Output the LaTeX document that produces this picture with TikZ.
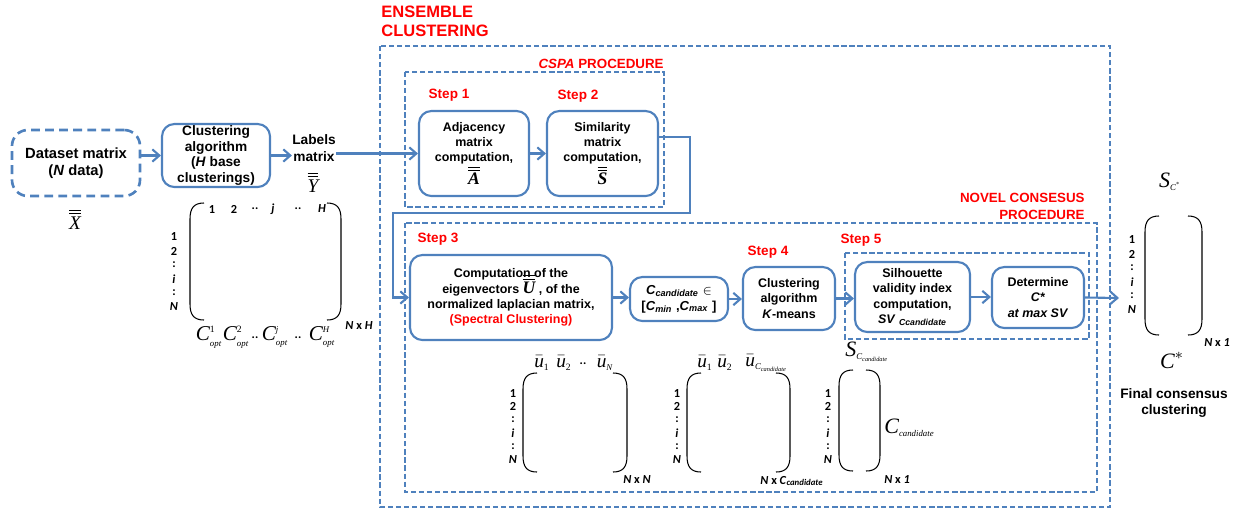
\documentclass[tikz,border=0pt]{standalone}
\usepackage{amsmath}
\usepackage{fontspec}
\setmainfont{Liberation Sans}
\newfontfamily\tms{Liberation Serif}
\newfontfamily\cbr{Carlito}
\usepackage{tikz}
\usetikzlibrary{arrows.meta}

\definecolor{boxblue}{HTML}{4F81BD}
\definecolor{titlered}{HTML}{FF0000}

\newcommand{\tv}[1]{\text{\tms\itshape #1}}
\newcommand{\tsub}[1]{\mbox{\fontsize{5}{6}\selectfont\tms\itshape #1}}
\newcommand{\tsubup}[1]{\mbox{\fontsize{5.5}{6}\selectfont\tms #1}}
\newcommand{\tsubsub}[1]{\mbox{\fontsize{3.6}{4}\selectfont\tms\itshape #1}}
\newcommand{\mtxparens}[4]{%
  \draw [paren] (#1+14,#2) .. controls (#1+4,#2) and (#1,#2+5) .. (#1,#2+16) -- (#1,#4-16) .. controls (#1,#4-5) and (#1+4,#4) .. (#1+14,#4);
  \draw [paren] (#3-14,#2) .. controls (#3-4,#2) and (#3,#2+5) .. (#3,#2+16) -- (#3,#4-16) .. controls (#3,#4-5) and (#3-4,#4) .. (#3-14,#4);}

\begin{document}
\begin{tikzpicture}[x=0.02cm, y=-0.02cm,
    box/.style={draw=boxblue, line width=1.2pt, rounded corners=7pt, align=center, inner sep=1pt,
        font=\bfseries\fontsize{7.1}{8.7}\selectfont},
    databox/.style={box, line width=1.5pt, dash pattern=on 5pt off 3pt, rounded corners=9pt,
        font=\bfseries\fontsize{8.4}{10}\selectfont},
    group/.style={draw=boxblue, line width=0.7pt, dash pattern=on 3pt off 1.6pt},
    flow/.style={draw=boxblue, line width=1.2pt, -{Straight Barb[length=4pt,width=7pt]}},
    redtitle/.style={text=titlered, inner sep=0pt, font=\bfseries\fontsize{7.6}{9.7}\selectfont},
    steplab/.style={text=titlered, inner sep=0pt, font=\bfseries\fontsize{7.7}{9}\selectfont},
    plain/.style={align=center, inner sep=0pt, font=\bfseries\fontsize{7.8}{9.4}\selectfont},
    idx/.style={inner sep=0pt, font=\cbr\bfseries\fontsize{7}{7.5}\selectfont},
    sym/.style={inner sep=0pt, font=\fontsize{11}{13}\selectfont},
    bigsym/.style={sym, font=\fontsize{12.5}{14}\selectfont},
    paren/.style={line width=0.6pt}]

\useasboundingbox (0,0) rectangle (1244,511);

\draw [group] (380,46) rectangle (1110,507);
\draw [group] (405,72) rectangle (664,207);
\draw [group] (405,223) rectangle (1097,492);
\draw [group] (845,253) rectangle (1089,339);

\node [redtitle, align=left, anchor=west, font=\bfseries\fontsize{9.4}{10.8}\selectfont] (enstitle) at (381,21) {ENSEMBLE\\CLUSTERING};
\node [redtitle, anchor=base east] (cspatitle) at (664,68) {\textit{CSPA} PROCEDURE};
\node [redtitle, align=right, anchor=east] (noveltitle) at (1085,206) {NOVEL CONSESUS\\PROCEDURE};

\node [steplab] (step1) at (449,95) {Step 1};
\node [steplab] (step2) at (578,96) {Step 2};
\node [steplab] (step3) at (438,239) {Step 3};
\node [steplab] (step4) at (768,252) {Step 4};
\node [steplab] (step5) at (861,240) {Step 5};

\node [databox, minimum width=2.56cm, minimum height=1.32cm] (data) at (76,163) {Dataset matrix\\(\textit{N} data)};
\node [box, minimum width=2.16cm, minimum height=1.26cm, font=\bfseries\fontsize{7.8}{8.8}\selectfont] (clust) at (216,155.5) {Clustering\\algorithm\\(\textit{H} base\\clusterings)};
\node [plain] (labels) at (314,148) {Labels\\matrix};
\node [box, minimum width=2.2cm, minimum height=1.7cm] (adj) at (474,153.5) {Adjacency\\matrix\\computation,\\{\fontsize{10}{8.7}\selectfont$\overline{\overline{\tv{A}}}$}};
\node [box, minimum width=2.22cm, minimum height=1.7cm] (sim) at (602.5,153.5) {Similarity\\matrix\\computation,\\{\fontsize{10}{8.7}\selectfont$\overline{\overline{\tv{S}}}$}};
\node [box, minimum width=4.04cm, minimum height=1.7cm] (comp) at (511,297.5) {Computation of the\\eigenvectors \smash{\fontsize{10}{8.7}\selectfont$\overline{\overline{\tv{U}}}$} , of the\\normalized laplacian matrix,\\\textcolor{titlered}{(Spectral Clustering)}};
\node [box, minimum width=1.96cm, minimum height=0.88cm, font=\bfseries\fontsize{7.4}{9}\selectfont] (cand) at (679,299) {\textit{C}\textsubscript{\textit{candidate}} $\in$\\{[}\textit{C}\textsubscript{\textit{min}} ,\textit{C}\textsubscript{\textit{max}} ]};
\node [box, minimum width=1.84cm, minimum height=1.26cm] (kmeans) at (789,298.5) {Clustering\\algorithm\\\textit{K}-means};
\node [box, minimum width=2.3cm, minimum height=1.4cm] (sil) at (912.5,297) {Silhouette\\validity index\\computation,\\\textit{SV} \textsubscript{\textit{Ccandidate}}};
\node [box, minimum width=1.84cm, minimum height=1.22cm] (det) at (1038,297.5) {Determine\\\textit{C*}\\\textit{at max SV}};

\node [sym] (xbar) at (75,219) {$\overline{\overline{\tv{X}}}$};
\node [sym] (ybar) at (313,182) {$\overline{\overline{\tv{Y}}}$};

\coordinate (turnA) at (690,213);
\coordinate (turnB) at (393,213);
\coordinate (endpt) at (1119,298);

\draw [flow] (data.east |- clust.west) -- (clust.west);
\draw [flow] (clust.east) -- (clust.east -| labels.west);
\draw [flow] (labels.east |- adj.west) -- (adj.west);
\draw [flow] (adj) -- (sim);
\draw [flow] ([yshift=0.33cm]sim.east) -| (turnA) -- (turnB) |- (comp.west);
\draw [flow] (comp.east) -- (comp.east -| cand.west);
\draw [flow] (cand.east) -- (cand.east -| kmeans.west);
\draw [flow] (kmeans.east) -- (kmeans.east -| sil.west);
\draw [flow] (sil.east) -- (sil.east -| det.west);
\draw [flow] (det.east) -- (endpt);

\mtxparens{190}{203}{341}{320}
\mtxparens{523}{373}{627}{472}
\mtxparens{687}{373}{790}{472}
\mtxparens{839}{370}{880}{471}
\mtxparens{1145}{216}{1202}{335}

\foreach \lab [count=\k] in {1,2,:,\textit{i},:,\textit{N}} {
  \node [idx] (rowa\k) at (174,223+14*\k) {\lab};
  \node [idx] (rowb\k) at (513,379.6+13.4*\k) {\lab};
  \node [idx] (rowc\k) at (677,379.6+13.4*\k) {\lab};
  \node [idx] (rowd\k) at (828,379.6+13.4*\k) {\lab};
  \node [idx] (rowe\k) at (1132,226+14*\k) {\lab};
}

\foreach \lab/\px [count=\k] in {1/212, 2/234, ../255, \textit{j}/273, ../298, \textit{H}/322}
  \node [idx] (colh\k) at (\px,209) {\lab};

\node [sym, font=\fontsize{12}{13}\selectfont] (copt1) at (209,337) {$\tv{C}^{\tsubup{1}}_{\tsub{opt}}$};
\node [sym, font=\fontsize{12}{13}\selectfont] (copt2) at (236,337) {$\tv{C}^{\tsubup{2}}_{\tsub{opt}}$};
\node [idx] (doth1) at (255,338) {..};
\node [sym, font=\fontsize{12}{13}\selectfont] (coptj) at (275,337) {$\tv{C}^{\tsub{j}}_{\tsub{opt}}$};
\node [idx] (doth2) at (298,338) {..};
\node [sym, font=\fontsize{12}{13}\selectfont] (copth) at (322,337) {$\tv{C}^{\tsub{H}}_{\tsub{opt}}$};
\node [idx] (dimh) at (359,326) {\textit{N} x \textit{H}};

\node [sym] (ua1) at (542,363) {$\bar{\tv{u}}_{\tsubup{1}}$};
\node [sym] (ua2) at (564,363) {$\bar{\tv{u}}_{\tsubup{2}}$};
\node [idx] (dotu) at (583,364) {..};
\node [sym] (uan) at (605,363) {$\bar{\tv{u}}_{\tsub{N}}$};
\node [idx] (dimnn) at (637,480) {\textit{N} x \textit{N}};

\node [sym] (ub1) at (705,363) {$\bar{\tv{u}}_{\tsubup{1}}$};
\node [sym] (ub2) at (725,363) {$\bar{\tv{u}}_{\tsubup{2}}$};
\node [sym, anchor=west] (ubc) at (745,363) {$\bar{\tv{u}}_{\tsub{C}_{\tsubsub{candidate}}}$};
\node [idx] (dimnc) at (792,481) {\textit{N} x \textit{C}\textsubscript{\textit{candidate}}};

\node [bigsym, anchor=west] (scand) at (845,352) {$\tv{S}_{\tsub{C}_{\tsubsub{candidate}}}$};
\node [bigsym, anchor=west] (ccand) at (884,428) {$\tv{C}_{\tsub{candidate}}$};
\node [idx] (dimn1) at (897,480) {\textit{N} x \textit{1}};

\node [bigsym] (sfinal) at (1170,182) {$\tv{S}_{\tsub{C}^{\tsubsub{*}}}$};
\node [bigsym] (cfinal) at (1172,360) {$\tv{C}^{*}$};
\node [idx] (dimfin) at (1217,343) {\textit{N} x \textit{1}};
\node [plain] (finaltxt) at (1174,403) {Final consensus\\clustering};

\end{tikzpicture}
\end{document}
